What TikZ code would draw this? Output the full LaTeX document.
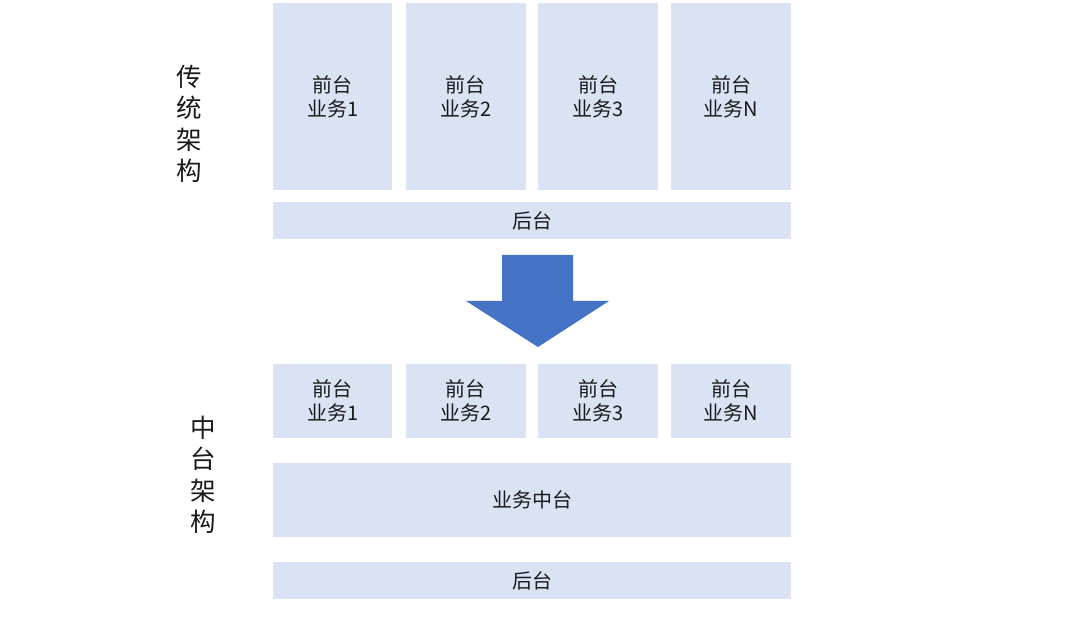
\documentclass[tikz,border=0pt]{standalone}
\usepackage{fontspec}
\setmainfont{Noto Sans CJK SC}
\definecolor{boxfill}{HTML}{DAE3F3}
\definecolor{arrowblue}{HTML}{4472C4}
\definecolor{txt}{HTML}{1A1A1A}
\begin{document}
\begin{tikzpicture}[x=1pt,y=-1pt,
  box/.style={fill=boxfill, draw=none, anchor=north west, inner sep=0pt, align=center,
    text=txt, font=\fontsize{20}{24}\selectfont},
  side/.style={align=center, text=txt, inner sep=0pt, font=\fontsize{25.5}{31.5}\selectfont}]
\useasboundingbox[fill=white] (0,0) rectangle (1080,617);
% traditional architecture
\node[box, minimum width=119pt, minimum height=187pt] (t1) at (273,3) {前台\\业务1};
\node[box, minimum width=120pt, minimum height=187pt] (t2) at (405.5,3) {前台\\业务2};
\node[box, minimum width=120pt, minimum height=187pt] (t3) at (538,3) {前台\\业务3};
\node[box, minimum width=120pt, minimum height=187pt] (t4) at (671,3) {前台\\业务N};
\node[box, minimum width=518pt, minimum height=37pt] (tb) at (273,202) {后台};
\node[side] (tl) at (189,124) {传\\统\\架\\构};
% arrow
\fill[arrowblue] (502,255) -- (573,255) -- (573,301) -- (609,301) -- (538,347) -- (466,301) -- (502,301) -- cycle;
% middle-platform architecture
\node[box, minimum width=119pt, minimum height=74pt] (m1) at (273,364) {前台\\业务1};
\node[box, minimum width=120pt, minimum height=74pt] (m2) at (405.5,364) {前台\\业务2};
\node[box, minimum width=120pt, minimum height=74pt] (m3) at (538,364) {前台\\业务3};
\node[box, minimum width=120pt, minimum height=74pt] (m4) at (671,364) {前台\\业务N};
\node[box, minimum width=518pt, minimum height=74pt] (mp) at (273,463) {业务中台};
\node[box, minimum width=518pt, minimum height=37pt] (mb) at (273,562) {后台};
\node[side] (ml) at (203,475) {中\\台\\架\\构};
\end{tikzpicture}
\end{document}
